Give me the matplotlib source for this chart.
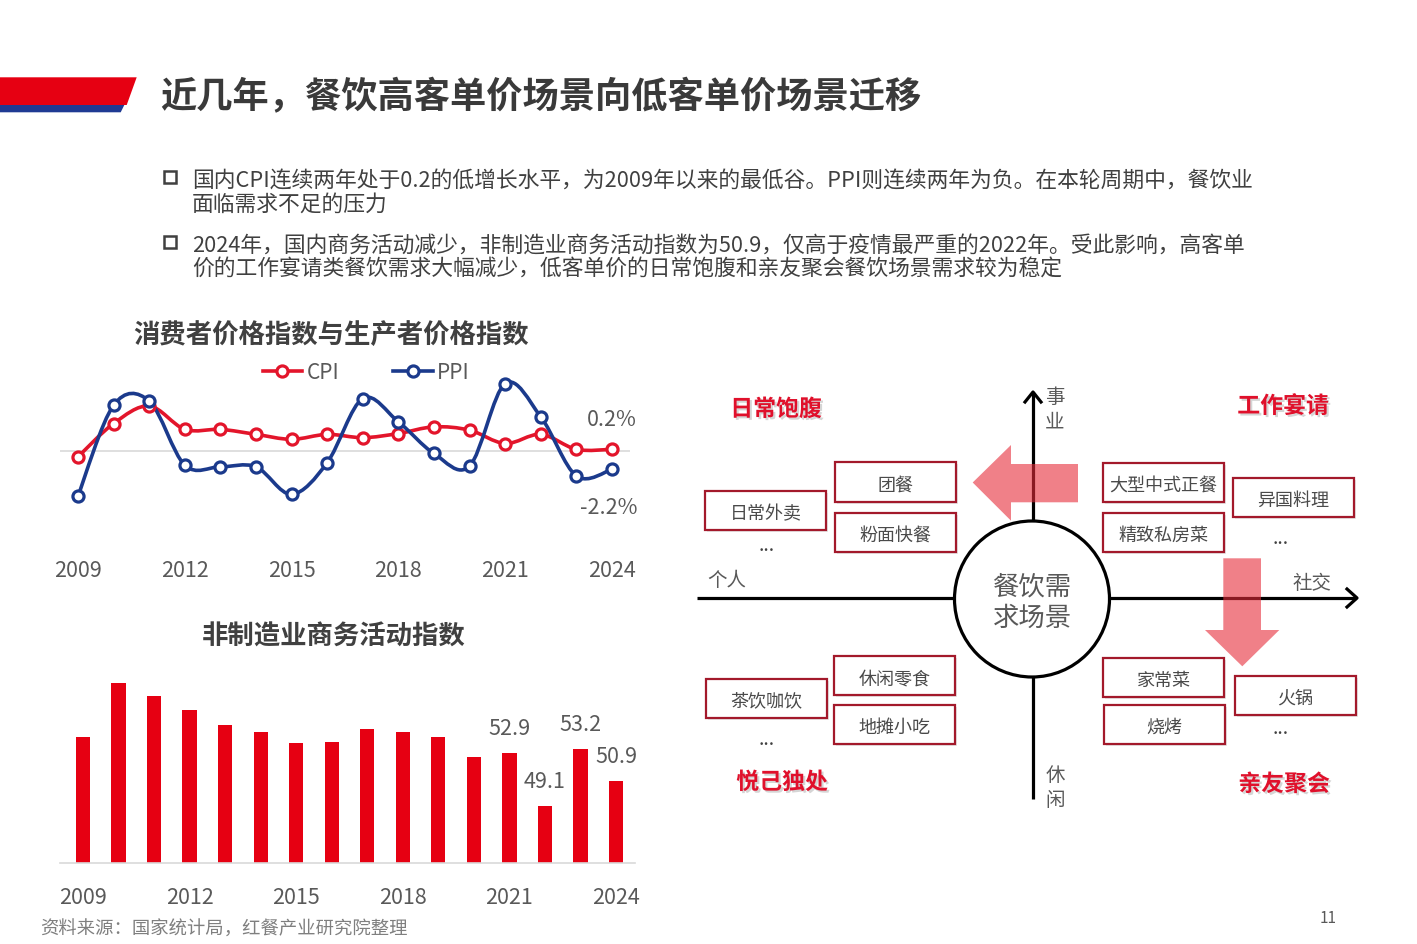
import numpy as np
import matplotlib
matplotlib.use('Agg')
import matplotlib.pyplot as plt
from matplotlib.path import Path
from matplotlib.patches import PathPatch, Polygon, Rectangle, Ellipse
from matplotlib.lines import Line2D
import matplotlib.patheffects as pe

plt.rcParams['font.family'] = ['Noto Sans CJK SC', 'DejaVu Sans']

# ---------------- data ----------------
years = list(range(2009, 2025))
cpi = [-0.7, 3.3, 5.4, 2.6, 2.6, 2.0, 1.4, 2.0, 1.6, 2.1, 2.9, 2.5, 0.9, 2.0, 0.2, 0.2]
ppi = [-5.4, 5.5, 6.0, -1.7, -1.9, -1.9, -5.2, -1.4, 6.3, 3.5, -0.3, -1.8, 8.1, 4.1, -3.0, -2.2]
nmi = [54.0, 57.9, 57.0, 56.0, 54.9, 54.4, 53.6, 53.7, 54.6, 54.4, 54.0, 52.6, 52.9, 49.1, 53.2, 50.9]
tick_years = [2009, 2012, 2015, 2018, 2021, 2024]
bar_labels = {2021: '52.9', 2022: '49.1', 2023: '53.2', 2024: '50.9'}
line_end_labels = {'CPI': '0.2%', 'PPI': '-2.2%'}

title = '近几年，餐饮高客单价场景向低客单价场景迁移'
bullets = [
    ['国内CPI连续两年处于0.2的低增长水平，为2009年以来的最低谷。PPI则连续两年为负。在本轮周期中，餐饮业',
     '面临需求不足的压力'],
    ['2024年，国内商务活动减少，非制造业商务活动指数为50.9，仅高于疫情最严重的2022年。受此影响，高客单',
     '价的工作宴请类餐饮需求大幅减少，低客单价的日常饱腹和亲友聚会餐饮场景需求较为稳定'],
]
chart1_title = '消费者价格指数与生产者价格指数'
chart2_title = '非制造业商务活动指数'
source = '资料来源：国家统计局，红餐产业研究院整理'

RED = '#E3152B'
NAVY = '#1B3A8C'
BAR_RED = '#E60012'
GRAY = '#595959'
DARK = '#3a3a3a'

W, H = 1417, 945
fig = plt.figure(figsize=(W / 100, H / 100), dpi=100)
fig.patch.set_facecolor('white')

# overlay axes in pixel coordinates
ov = fig.add_axes([0, 0, 1, 1])
ov.set_xlim(0, W)
ov.set_ylim(H, 0)
ov.axis('off')

DY = 2.5  # vertical correction for centred CJK text


def T(x, y, s, **kw):
    kw.setdefault('ha', 'center')
    kw.setdefault('va', 'center')
    return ov.text(x, y + DY, s, **kw)


def px_axes(x0, y0, x1, y1):
    a = fig.add_axes([x0 / W, 1 - y1 / H, (x1 - x0) / W, (y1 - y0) / H])
    a.patch.set_alpha(0)
    return a


# ---------------- header ----------------
ov.add_patch(Polygon([(0, 96), (129.3, 96), (120.7, 113.3), (0, 113.3)], closed=True,
                     fc='#1F3A93', ec='none'))
ov.add_patch(Polygon([(0, 78.3), (136.7, 78.3), (126.7, 106), (0, 106)], closed=True,
                     fc='#E60012', ec='none'))
T(160, 95, title, fontsize=26.1, fontweight='bold', color=DARK, ha='left')

# bullets
by = [(178, 202), (243, 267)]
for (y1, y2), lines in zip(by, bullets):
    ov.add_patch(Rectangle((164, y1 - 6), 12, 12, fc='white', ec='#404040', lw=1.8))
    T(192, y1, lines[0], fontsize=15.7, color='#404040', ha='left')
    T(192, y2, lines[1], fontsize=15.7, color='#404040', ha='left')

# ---------------- line chart ----------------
T(331, 333, chart1_title, fontsize=19, fontweight='bold', color='#404040')

ax1 = px_axes(60, 380, 630, 550)
ax1.set_xlim(2009 - 18 / 35.6, 2024 + 18 / 35.6)
ax1.set_ylim(-(550 - 452) / 8.33, (452 - 380) / 8.33)
for s in ax1.spines.values():
    s.set_visible(False)
ax1.set_yticks([])
ax1.axhline(0, color='#d9d9d9', lw=1.2, zorder=1)


def smooth_path(xs, ys):
    pts = np.column_stack([xs, ys]).astype(float)
    n = len(pts)
    verts = [pts[0]]
    codes = [Path.MOVETO]
    for i in range(n - 1):
        p0 = pts[i - 1] if i > 0 else pts[i]
        p1 = pts[i]
        p2 = pts[i + 1]
        p3 = pts[i + 2] if i + 2 < n else pts[i + 1]
        c1 = p1 + (p2 - p0) / 6.0
        c2 = p2 - (p3 - p1) / 6.0
        verts += [c1, c2, p2]
        codes += [Path.CURVE4] * 3
    return Path(verts, codes)


for vals, col in [(cpi, RED), (ppi, NAVY)]:
    ax1.add_patch(PathPatch(smooth_path(years, vals), fc='none', ec=col, lw=2.6,
                            zorder=2, clip_on=False))
    ax1.plot(years, vals, ls='none', marker='o', ms=8, mfc='white', mec=col, mew=2.3,
             zorder=3, clip_on=False)

ax1.set_xticks(tick_years)
ax1.set_xticklabels([str(y) for y in tick_years])
ax1.tick_params(axis='x', length=0, pad=7, labelsize=15.5, labelcolor=GRAY)

ax1.annotate(line_end_labels['CPI'], (years[-1], cpi[-1]), xytext=(0, 21.5),
             textcoords='offset points', ha='center', va='center', fontsize=15.5, color=GRAY)
ax1.annotate(line_end_labels['PPI'], (years[-1], ppi[-1]), xytext=(-2, -27),
             textcoords='offset points', ha='center', va='center', fontsize=15.5, color=GRAY)

handles = [Line2D([], [], color=RED, lw=2.6, marker='o', ms=8, mfc='white', mec=RED, mew=2.3),
           Line2D([], [], color=NAVY, lw=2.6, marker='o', ms=8, mfc='white', mec=NAVY, mew=2.3)]
fig.legend(handles, ['CPI', 'PPI'], loc='center', bbox_to_anchor=(366 / W, 1 - 373 / H),
           bbox_transform=fig.transFigure, ncol=2, frameon=False, fontsize=15,
           handlelength=1.9, handletextpad=0.2, columnspacing=2.6, labelcolor=GRAY)

# ---------------- bar chart ----------------
T(334, 635, chart2_title, fontsize=19, fontweight='bold', color='#404040')

ax2 = px_axes(60, 660, 635, 864)
ax2.set_xlim(2009 - 23 / 35.53, 2024 + 19 / 35.53)
ax2.set_ylim(45, 45 + 204 / 13.95)
ax2.bar(years, [v - 45 for v in nmi], bottom=45, width=0.4, color=BAR_RED, zorder=2)
for s in ['top', 'right', 'left']:
    ax2.spines[s].set_visible(False)
ax2.spines['bottom'].set_color('#d9d9d9')
ax2.spines['bottom'].set_linewidth(1.2)
ax2.set_yticks([])
ax2.set_xticks(tick_years)
ax2.set_xticklabels([str(y) for y in tick_years])
ax2.tick_params(axis='x', length=0, pad=16.5, labelsize=15.5, labelcolor=GRAY)
for yr, lab in bar_labels.items():
    v = nmi[years.index(yr)]
    ax2.annotate(lab, (yr, v), xytext=(0, 18), textcoords='offset points',
                 ha='center', va='center', fontsize=15.5, color=GRAY)

T(40, 927, source, fontsize=13.2, color='#7f7f7f', ha='left')
T(1328, 916, '11', fontsize=11, color=GRAY)

# ---------------- diagram ----------------
LW = 2.3
ov.plot([697, 1356], [599, 599], color='black', lw=LW, solid_capstyle='butt', zorder=2)
ov.plot([1347, 1357, 1347], [590, 599, 608], color='black', lw=LW, zorder=2)
ov.plot([1033, 1033], [800, 393], color='black', lw=LW, solid_capstyle='butt', zorder=2)
ov.plot([1025, 1033, 1041], [403, 393, 403], color='black', lw=LW, zorder=2)
ov.add_patch(Ellipse((1032, 600), 155, 156, fc='white', ec='black', lw=LW, zorder=3))
T(1032, 585, '餐饮需', fontsize=19, color=GRAY, zorder=4)
T(1032, 616, '求场景', fontsize=19, color=GRAY, zorder=4)

ARW = '#E62B39'
ov.add_patch(Polygon([(972.7, 483.5), (1011, 446), (1011, 465), (1078, 465), (1078, 503.3),
                      (1011, 503.3), (1011, 521.7)], closed=True, fc=ARW, ec='none',
                     alpha=0.6, zorder=5))
ov.add_patch(Polygon([(1223.3, 559.3), (1261, 559.3), (1261, 631), (1279.3, 631),
                      (1242.3, 667.3), (1205, 631), (1223.3, 631)], closed=True, fc=ARW,
                     ec='none', alpha=0.6, zorder=5))

for s, x, y in [('事', 1055, 395), ('业', 1055, 420), ('休', 1055, 773), ('闲', 1055, 798),
                ('个人', 727, 578), ('社交', 1312, 581)]:
    T(x, y, s, fontsize=14, color=GRAY)

shadow = [pe.withSimplePatchShadow(offset=(1.5, -1.5), shadow_rgbFace='#888888', alpha=0.35)]
for s, x, y in [('日常饱腹', 776, 408), ('工作宴请', 1283, 405),
                ('悦己独处', 782, 781), ('亲友聚会', 1284, 783)]:
    T(x, y, s, fontsize=16.5, fontweight='bold', color='#E0102B', path_effects=shadow)

boxes = [('团餐', 835, 463, 956, 503), ('粉面快餐', 835, 514, 956, 553),
         ('日常外卖', 705, 492, 826, 531), ('大型中式正餐', 1103, 464, 1224, 503),
         ('精致私房菜', 1103, 514, 1224, 553), ('异国料理', 1233, 479, 1354, 518),
         ('休闲零食', 834, 657, 955, 696), ('地摊小吃', 834, 706, 955, 745),
         ('茶饮咖饮', 706, 680, 827, 719), ('家常菜', 1103, 659, 1224, 698),
         ('烧烤', 1104, 706, 1225, 745), ('火锅', 1235, 677, 1356, 716)]
for s, x0, y0, x1, y1 in boxes:
    ov.add_patch(Rectangle((x0 + 2, y0 + 2), x1 - x0, y1 - y0, fc='#bbbbbb', ec='none',
                           alpha=0.35, zorder=1))
    ov.add_patch(Rectangle((x0, y0), x1 - x0, y1 - y0, fc='white', ec='#A3192B', lw=1.6,
                           zorder=2))
    T((x0 + x1) / 2, (y0 + y1) / 2, s, fontsize=13, color='#4a4a4a', zorder=3)

for x, y in [(767, 543), (1281, 536), (767, 737), (1281, 726)]:
    T(x, y, '...', fontsize=14, color='#404040')

fig.savefig('out.png', dpi=100, facecolor='white')
